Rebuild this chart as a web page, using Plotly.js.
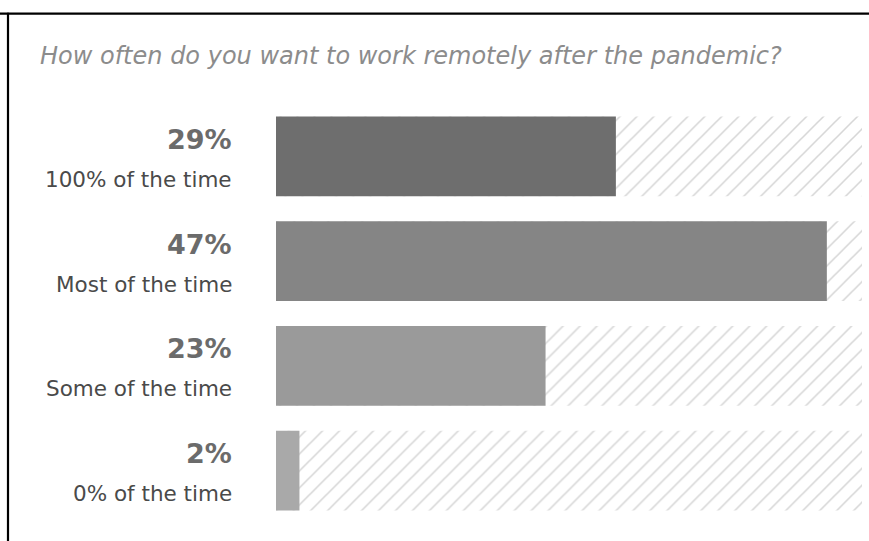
<!DOCTYPE html>
<html>
<head>
<meta charset="utf-8">
<script src="https://cdn.plot.ly/plotly-3.0.1.min.js"></script>
<style>
html,body{margin:0;padding:0;background:#fff;}
#chart{width:869px;height:541px;}
</style>
</head>
<body>
<div id="chart"></div>
<script>
const categories = ["100% of the time", "Most of the time", "Some of the time", "0% of the time"];
const values = [29, 47, 23, 2];
const valueLabels = ["29%", "47%", "23%", "2%"];
const barColors = ["#6e6e6e", "#858585", "#9a9a9a", "#a9a9a9"];
const scaleMax = 50;
const backgroundValues = categories.map(() => scaleMax);
const titleText = "How often do you want to work remotely after the pandemic?";

const font = "'DejaVu Sans', 'Open Sans', sans-serif";

const bgTrace = {
  type: "bar",
  orientation: "h",
  y: categories,
  x: backgroundValues,
  width: 0.762,
  marker: {
    color: "#ffffff",
    line: {width: 0},
    pattern: {shape: "/", fgcolor: "#d6d6d6", bgcolor: "#ffffff", size: 12, solidity: 0.13}
  },
  hoverinfo: "skip",
  showlegend: false
};

const valTrace = {
  type: "bar",
  orientation: "h",
  y: categories,
  x: values,
  width: 0.762,
  marker: {color: barColors, line: {width: 0}},
  showlegend: false
};

const annotations = [];
categories.forEach((c, i) => {
  annotations.push({
    xref: "paper", yref: "y", x: -0.071, y: c, xanchor: "right", yanchor: "middle",
    yshift: 17, text: "<b>" + valueLabels[i] + "</b>", showarrow: false,
    font: {family: font, size: 27, color: "#6b6b6b"}
  });
  annotations.push({
    xref: "paper", yref: "y", x: -0.071, y: c, xanchor: "right", yanchor: "middle",
    yshift: -23, text: c, showarrow: false,
    font: {family: font, size: 21.5, color: "#4a4a4a"}
  });
});

const layout = {
  width: 869, height: 541,
  margin: {l: 276, r: 7, t: 103.5, b: 17.5},
  paper_bgcolor: "#ffffff", plot_bgcolor: "#ffffff",
  barmode: "overlay",
  bargap: 0.238,
  title: {
    text: "<i>" + titleText + "</i>",
    x: 40 / 869, xanchor: "left", xref: "container",
    y: 1 - 56 / 541, yanchor: "middle", yref: "container",
    font: {family: font, size: 24, color: "#8c8c8c"}
  },
  xaxis: {range: [0, scaleMax], visible: false, fixedrange: true},
  yaxis: {
    type: "category", categoryorder: "array", categoryarray: categories,
    autorange: "reversed", showticklabels: false, showgrid: false, zeroline: false, showline: false, ticks: ""
  },
  annotations: annotations,
  shapes: [
    {type: "line", xref: "paper", yref: "paper", x0: -276/586, x1: 1 + 7/586, y0: 1 + (103.5 - 13)/420, y1: 1 + (103.5 - 13)/420, line: {color: "#000", width: 2.2}},
    {type: "line", xref: "paper", yref: "paper", x0: -(276 - 8)/586, x1: -(276 - 8)/586, y0: 1 + (103.5 - 12)/420, y1: -17.5/420 - 0.01, line: {color: "#000", width: 2.2}}
  ]
};

Plotly.newPlot("chart", [bgTrace, valTrace], layout, {displayModeBar: false, staticPlot: true});
</script>
</body>
</html>
